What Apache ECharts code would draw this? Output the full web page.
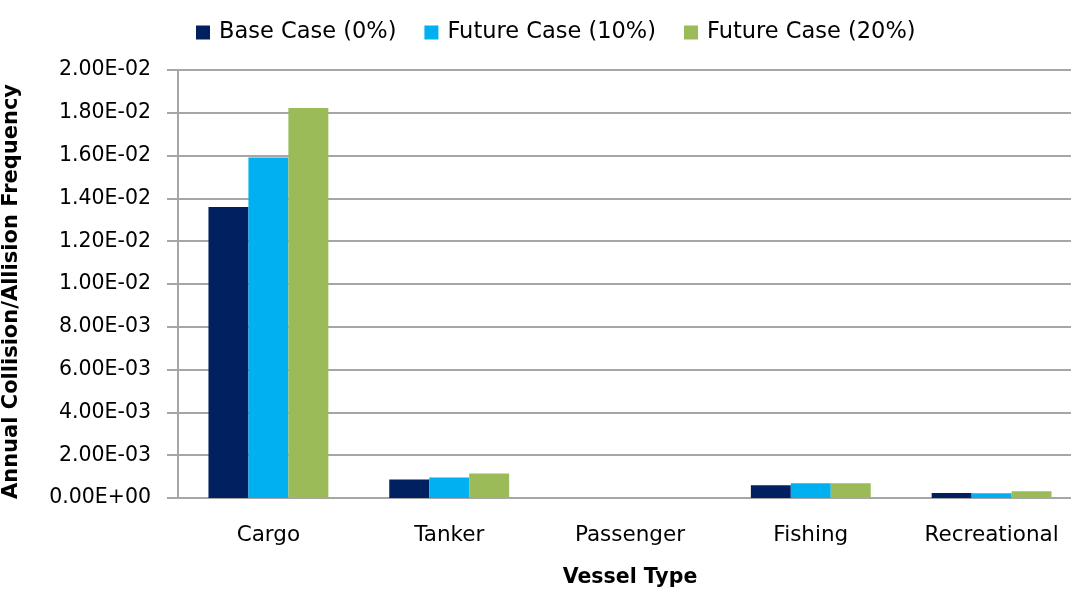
<!DOCTYPE html>
<html>
<head>
<meta charset="utf-8">
<script src="https://cdn.jsdelivr.net/npm/echarts@6/dist/echarts.min.js"></script>
<style>
  html, body { margin: 0; padding: 0; background: #fff; }
  #chart { width: 1071px; height: 590px; }
</style>
</head>
<body>
<div id="chart"></div>
<script>
// Vessel categories and annual collision/allision frequencies per scenario
const categories = ['Cargo', 'Tanker', 'Passenger', 'Fishing', 'Recreational'];
const baseCase = [0.01360, 0.00086, 0, 0.00060, 0.00023];
const future10 = [0.01591, 0.00096, 0, 0.00069, 0.00022];
const future20 = [0.01822, 0.00114, 0, 0.00069, 0.00031];
const seriesNames = ['Base Case (0%)', 'Future Case (10%)', 'Future Case (20%)'];
const colors = ['#002060', '#00B0F0', '#9BBB59'];

const FONT = '"DejaVu Sans", sans-serif';

// Excel-style scientific labels: 1.80E-02
function sci(v) {
  if (v === 0) return '0.00E+00';
  const [m, e] = v.toExponential(2).split('e');
  const n = parseInt(e, 10);
  const sign = n < 0 ? '-' : '+';
  const abs = Math.abs(n);
  return m + 'E' + sign + (abs < 10 ? '0' + abs : abs);
}

const chart = echarts.init(document.getElementById('chart'), null, { renderer: 'canvas' });

const seriesData = [baseCase, future10, future20];

chart.setOption({
  animation: false,
  color: colors,
  textStyle: { fontFamily: FONT },
  legend: {
    top: 16,
    left: 191,
    itemWidth: 14,
    itemHeight: 14,
    itemGap: 28,
    icon: 'rect',
    textStyle: { fontSize: 22.5, color: '#000', fontFamily: FONT, padding: [0, 0, 0, 4] },
    data: seriesNames
  },
  grid: { left: 178, width: 904, top: 70, bottom: 92, containLabel: false, outerBoundsMode: 'none' },
  xAxis: {
    type: 'category',
    data: categories,
    name: 'Vessel Type',
    nameLocation: 'middle',
    nameGap: 69,
    nameTextStyle: { fontSize: 20.5, fontWeight: 'bold', color: '#000', fontFamily: FONT },
    axisLine: { lineStyle: { color: '#a6a6a6', width: 2 } },
    axisTick: { show: false },
    axisLabel: { fontSize: 21.5, color: '#000', margin: 26, fontFamily: FONT }
  },
  yAxis: {
    type: 'value',
    min: 0,
    max: 0.02,
    interval: 0.002,
    name: 'Annual Collision/Allision Frequency',
    nameLocation: 'middle',
    nameGap: 156,
    nameTextStyle: { fontSize: 21, fontWeight: 'bold', color: '#000', fontFamily: FONT, padding: [0, 15, 0, 0] },
    axisLine: { show: true, lineStyle: { color: '#a6a6a6', width: 2 } },
    axisTick: { show: true, length: 11, lineStyle: { color: '#a6a6a6', width: 2 } },
    splitLine: { lineStyle: { color: '#a6a6a6', width: 2 } },
    axisLabel: { fontSize: 20.5, color: '#000', margin: 27, formatter: sci, fontFamily: FONT }
  },
  series: seriesData.map((d, i) => ({
    name: seriesNames[i],
    type: 'bar',
    data: d,
    barGap: '0%',
    barCategoryGap: '33.7%'
  }))
});
</script>
</body>
</html>
